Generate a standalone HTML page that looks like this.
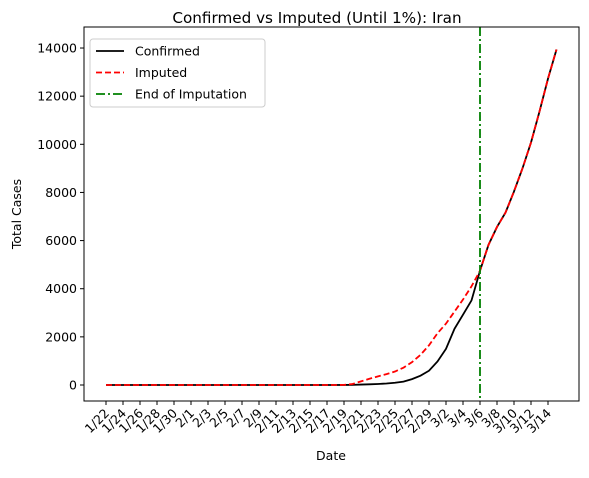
<!DOCTYPE html>
<html><head><meta charset="utf-8"><style>body{margin:0;background:#fff}svg{font-family:"DejaVu Sans","Liberation Sans",sans-serif}</style></head>
<body>
<svg id="chart" width="589" height="473" xmlns="http://www.w3.org/2000/svg"></svg>
<script>
const dates=["1/22","1/23","1/24","1/25","1/26","1/27","1/28","1/29","1/30","1/31","2/1","2/2","2/3","2/4","2/5","2/6","2/7","2/8","2/9","2/10","2/11","2/12","2/13","2/14","2/15","2/16","2/17","2/18","2/19","2/20","2/21","2/22","2/23","2/24","2/25","2/26","2/27","2/28","2/29","3/1","3/2","3/3","3/4","3/5","3/6","3/7","3/8","3/9","3/10","3/11","3/12","3/13","3/14","3/15"];
const confirmed=[0,0,0,0,0,0,0,0,0,0,0,0,0,0,0,0,0,0,0,0,0,0,0,0,0,0,0,0,2,5,18,28,43,61,95,139,245,388,593,978,1501,2336,2922,3513,4747,5823,6566,7161,8042,9000,10075,11364,12729,13938];
const imputed=[0,0,0,0,0,0,0,0,0,0,0,0,0,0,0,0,0,0,0,0,0,0,0,0,0,0,0,0,5,40,150,260,360,450,560,720,950,1250,1650,2150,2550,3050,3550,4100,4747,5823,6566,7161,8042,9000,10075,11364,12729,13938];
const yTicks=[0,2000,4000,6000,8000,10000,12000,14000];
const endIdx=44;
const NS="http://www.w3.org/2000/svg",svg=document.getElementById("chart");
const L=84,R=579,T=27,B=401;
const x=i=>106+i*8.5, y=v=>385-v*48.14/2000;
function el(t,a,p){const e=document.createElementNS(NS,t);for(const k in a)e.setAttribute(k,a[k]);(p||svg).appendChild(e);return e;}
const t=el("text",{x:317,y:23,"text-anchor":"middle","font-size":15.2});t.textContent="Confirmed vs Imputed (Until 1%): Iran";

yTicks.forEach(v=>{el("line",{x1:L-4,x2:L,y1:y(v),y2:y(v),stroke:"#000"});const tx=el("text",{x:L-7,y:y(v)+4.5,"text-anchor":"end","font-size":12.5});tx.textContent=v;
});
dates.forEach((d,i)=>{if(i%2)return;el("line",{x1:x(i),x2:x(i),y1:B,y2:B+4,stroke:"#000"});const tx=el("text",{x:x(i)+4,y:B+13,"text-anchor":"end","font-size":12.5,transform:`rotate(-45 ${x(i)+4} ${B+13})`});tx.textContent=d;
});
const xl=el("text",{x:331,y:460,"text-anchor":"middle","font-size":12.5});xl.textContent="Date";

const yl=el("text",{x:21,y:214,"text-anchor":"middle","font-size":12.5,transform:"rotate(-90 21 214)"});yl.textContent="Total Cases";

const pc=el("polyline",{points:confirmed.map((v,i)=>x(i)+","+y(v)).join(" "),fill:"none",stroke:"#000","stroke-width":1.8});

const pi=el("polyline",{points:imputed.map((v,i)=>x(i)+","+y(v)).join(" "),fill:"none",stroke:"red","stroke-width":1.8,"stroke-dasharray":"6,3"});

const vl=el("line",{x1:x(endIdx),x2:x(endIdx),y1:T,y2:B,stroke:"green","stroke-width":1.8,"stroke-dasharray":"9,3,2,3"});

el("rect",{x:L,y:T,width:R-L,height:B-T,fill:"none",stroke:"#000","stroke-width":1});
const lg=el("g",{});
el("rect",{x:90,y:39,width:175,height:68,rx:3,fill:"#fff",stroke:"#ccc"},lg);
[["Confirmed","#000",""],["Imputed","red","6,3"],["End of Imputation","green","9,3,2,3"]].forEach((e,k)=>{const yy=51+k*21.5;
el("line",{x1:96,x2:124,y1:yy,y2:yy,stroke:e[1],"stroke-width":1.8,"stroke-dasharray":e[2]},lg);
const tx=el("text",{x:135,y:yy+4.5,"font-size":12.5},lg);tx.textContent=e[0];
});
</script>
</body></html>
